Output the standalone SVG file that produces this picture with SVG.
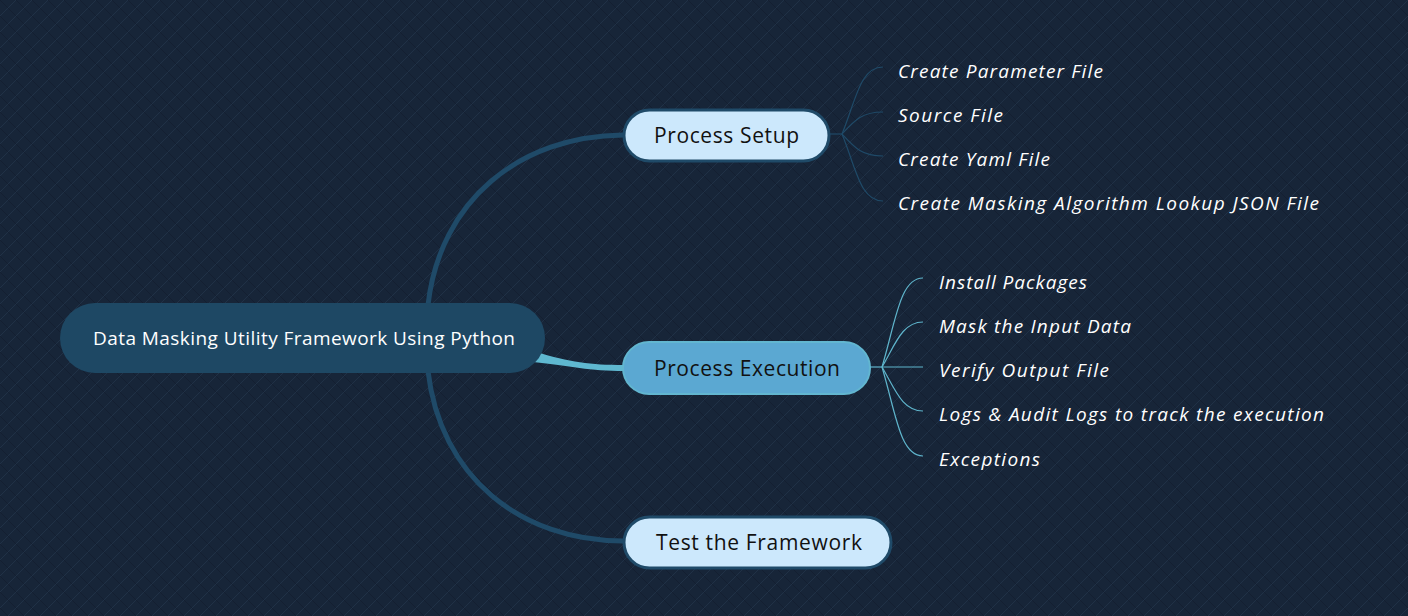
<svg xmlns="http://www.w3.org/2000/svg" width="1408" height="616" viewBox="0 0 1408 616">
<defs>
<pattern id="tex" width="16" height="16" patternUnits="userSpaceOnUse">
<path d="M0 16 L16 0 M-4 4 L4 -4 M12 20 L20 12" stroke="#2d4259" stroke-width="1" opacity="0.4"/>
<path d="M0 0 L16 16 M-4 12 L4 20 M12 -4 L20 4" stroke="#0e1828" stroke-width="1" opacity="0.45"/>
</pattern>
<style>
.main{stroke:#1f4a68;fill:none;stroke-linecap:round}
.sub1{stroke:#1f4a68;stroke-width:1.2;fill:none}
.sub2{stroke:#5fb5cc;stroke-width:1.2;fill:none}
.leaf{font-family:"Open Sans","Liberation Sans",sans-serif;font-style:italic;font-size:19px;fill:#ffffff}
.topic{font-family:"Open Sans","Liberation Sans",sans-serif;font-size:21px;fill:#111111}
</style>
</defs>
<rect width="1408" height="616" fill="#172538"/>
<rect width="1408" height="616" fill="url(#tex)"/>
<g id="connectors">
<path class="main" stroke-width="5" d="M428 305 C 440 200, 520 136, 623 135"/>
<path class="main" stroke-width="5" d="M428 371 C 440 476, 520 541, 623 541"/>
<path d="M536 352 C 570 362, 590 365, 624 365 L 624 371 C 590 371, 570 366, 533 362 Z" fill="#5fb8d0"/>
<path class="sub1" d="M829 134 L842 134"/>
<path class="sub1" d="M842 134 C 856 100, 860 67, 883 67"/>
<path class="sub1" d="M842 134 C 855 120, 862 112, 883 112"/>
<path class="sub1" d="M842 134 C 855 148, 862 156, 883 156"/>
<path class="sub1" d="M842 134 C 856 168, 860 201, 883 201"/>
<path class="sub2" d="M869 367 L882 367"/>
<path class="sub2" d="M882 367 C 896 320, 900 278, 923 278"/>
<path class="sub2" d="M882 367 C 895 345, 902 322, 923 322"/>
<path class="sub2" d="M882 367 L923 367"/>
<path class="sub2" d="M882 367 C 895 389, 902 411, 923 411"/>
<path class="sub2" d="M882 367 C 896 414, 900 456, 923 456"/>
</g>
<g id="root">
<rect x="60" y="303" width="485" height="70" rx="35" fill="#1e4864"/>
<text x="93" y="345" textLength="422" lengthAdjust="spacing" font-family="Open Sans, Liberation Sans, sans-serif" font-size="19" fill="#ffffff">Data Masking Utility Framework Using Python</text>
</g>
<g id="process-setup">
<rect x="624" y="110" width="205" height="51" rx="25.5" fill="#cce8fc" stroke="#1f4a68" stroke-width="3"/>
<text class="topic" x="654" y="143" textLength="145" lengthAdjust="spacing">Process Setup</text>
</g>
<g id="process-execution">
<rect x="623" y="342" width="247" height="52" rx="26" fill="#5ba8d2" stroke="#62b6d0" stroke-width="2"/>
<text class="topic" x="654" y="376" textLength="186" lengthAdjust="spacing">Process Execution</text>
</g>
<g id="test-framework">
<rect x="624" y="517" width="267" height="51" rx="25.5" fill="#cce8fc" stroke="#1f4a68" stroke-width="3"/>
<text class="topic" x="656" y="550" textLength="206" lengthAdjust="spacing">Test the Framework</text>
</g>
<g id="ps-children">
<text class="leaf" x="898" y="78" textLength="205" lengthAdjust="spacing">Create Parameter File</text>
<text class="leaf" x="898" y="122" textLength="105" lengthAdjust="spacing">Source File</text>
<text class="leaf" x="898" y="166" textLength="152" lengthAdjust="spacing">Create Yaml File</text>
<text class="leaf" x="898" y="210" textLength="421" lengthAdjust="spacing">Create Masking Algorithm Lookup JSON File</text>
</g>
<g id="pe-children">
<text class="leaf" x="939" y="289" textLength="148" lengthAdjust="spacing">Install Packages</text>
<text class="leaf" x="939" y="333" textLength="192" lengthAdjust="spacing">Mask the Input Data</text>
<text class="leaf" x="939" y="377" textLength="170" lengthAdjust="spacing">Verify Output File</text>
<text class="leaf" x="939" y="421" textLength="385" lengthAdjust="spacing">Logs &amp; Audit Logs to track the execution</text>
<text class="leaf" x="939" y="466" textLength="101" lengthAdjust="spacing">Exceptions</text>
</g>
</svg>
